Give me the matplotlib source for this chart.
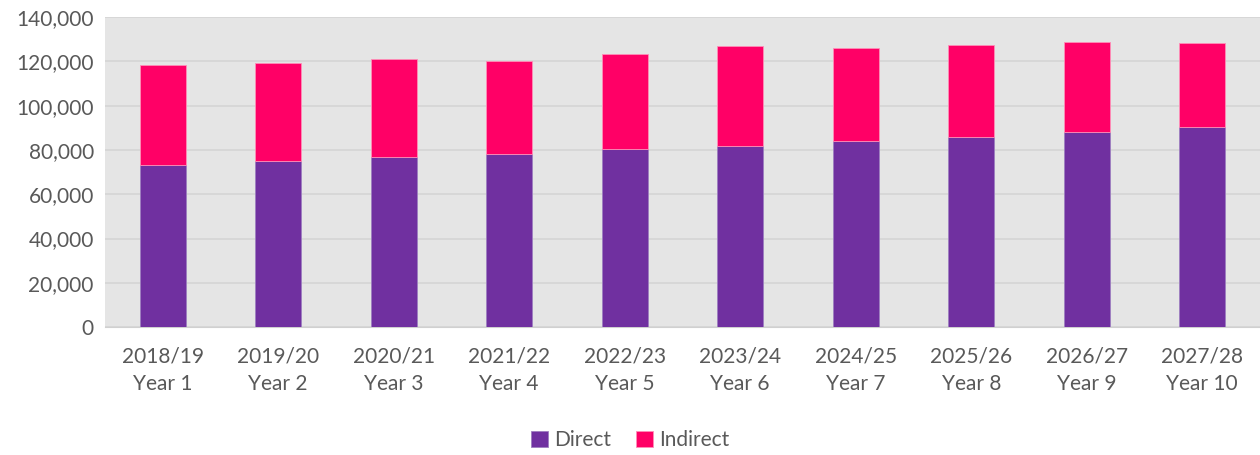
import matplotlib
matplotlib.use("Agg")
import matplotlib.pyplot as plt
from matplotlib.ticker import FuncFormatter

plt.rcParams['font.family'] = ['Lato', 'DejaVu Sans']

years = ["2018/19", "2019/20", "2020/21", "2021/22", "2022/23",
         "2023/24", "2024/25", "2025/26", "2026/27", "2027/28"]
year_nums = ["Year 1", "Year 2", "Year 3", "Year 4", "Year 5",
             "Year 6", "Year 7", "Year 8", "Year 9", "Year 10"]
direct = [73300, 74800, 76600, 78300, 80200, 81900, 83900, 85800, 87900, 90300]
indirect = [45200, 44400, 44300, 41700, 43000, 45000, 42000, 41400, 40800, 38000]

PURPLE = "#7030A0"
PINK = "#FF0066"
TEXT = "#595959"

fig = plt.figure(figsize=(12.6, 4.55), dpi=100)
ax = fig.add_axes([0.0833, 0.281, 0.9167, 0.6816])
ax.set_facecolor("#E5E5E5")

x = list(range(len(years)))
ax.bar(x, direct, width=0.4, color=PURPLE, edgecolor="#9E7FC0", linewidth=0.6,
       label="Direct", zorder=3)
ax.bar(x, indirect, width=0.4, bottom=direct, color=PINK, edgecolor="#FF8FB8",
       linewidth=0.6, label="Indirect", zorder=3)

ax.set_ylim(0, 140000)
ax.set_xlim(-0.5, len(years) - 0.5)
ax.set_yticks(range(0, 140001, 20000))
ax.yaxis.set_major_formatter(FuncFormatter(lambda v, p: f"{int(v):,}"))
ax.set_xticks(x)
ax.set_xticklabels([f"{a}\n{b}" for a, b in zip(years, year_nums)],
                   linespacing=1.45)
ax.grid(axis="y", color="#D5D5D5", linewidth=1.2, zorder=0)
ax.tick_params(axis="both", length=0, labelsize=15, colors=TEXT, pad=8)
ax.tick_params(axis="x", pad=14)
for s in ax.spines.values():
    s.set_visible(False)
ax.spines["bottom"].set_visible(True)
ax.spines["bottom"].set_color("#D0D0D0")

fig.legend(loc="lower center", ncol=2, frameon=False, fontsize=15,
           bbox_to_anchor=(0.5, -0.03), handlelength=0.8, handleheight=0.8,
           handletextpad=0.3, columnspacing=1.2, labelcolor=TEXT)

fig.savefig("out.png", dpi=100)
